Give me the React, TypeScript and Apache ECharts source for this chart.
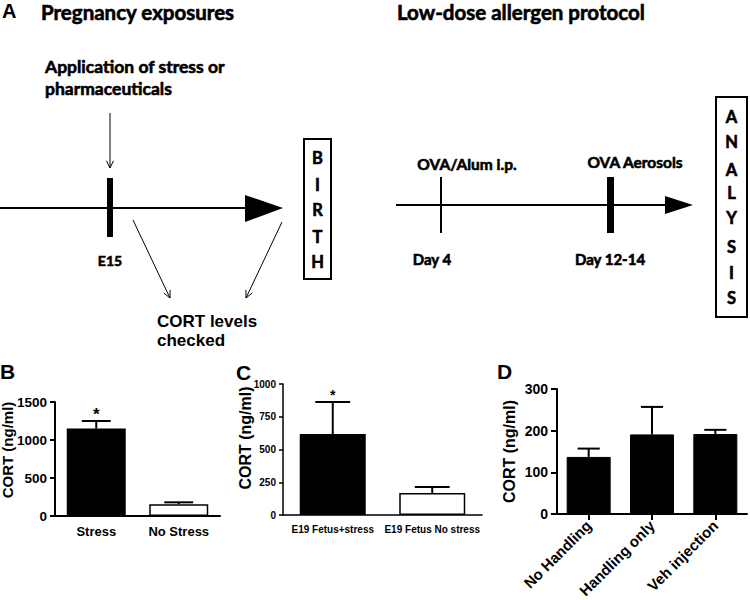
import React, { useEffect, useRef } from "react";
import * as echarts from "echarts";

// ---- Data ----
const bCategories = ["Stress", "No Stress"];
const bValues = [1150, 155];
const bErrTop = [1250, 180];
const bStars = [true, false];

const cCategories = ["E19 Fetus+stress", "E19 Fetus No stress"];
const cValues = [618, 168];
const cErrTop = [863, 214];
const cStars = [true, false];

const dCategories = ["No Handling", "Handling only", "Veh injection"];
const dValues = [137, 191, 192];
const dErrTop = [157, 257, 202];
const dStars = [false, false, false];

const yTitle = "CORT (ng/ml)";
const birthLetters = ["B", "I", "R", "T", "H"];
const analysisLetters = ["A", "N", "A", "L", "Y", "S", "I", "S"];

const ARIAL = "Liberation Sans";
const CAL = "Lato";

function txt(text: string, x: number, y: number, size: number, family: string, align = "left") {
  const heavy = family === CAL;
  return {
    type: "text",
    x,
    y,
    style: {
      text,
      fill: "#000",
      stroke: heavy ? "#000" : null,
      lineWidth: heavy ? 0.6 : 0,
      font: `bold ${size}px "${family}"`,
      textAlign: align,
      textVerticalAlign: "middle",
    },
  };
}

function line(x1: number, y1: number, x2: number, y2: number, w = 2) {
  return { type: "line", shape: { x1, y1, x2, y2 }, style: { stroke: "#000", lineWidth: w } };
}

function arrow(x1: number, y1: number, x2: number, y2: number) {
  const dx = x2 - x1;
  const dy = y2 - y1;
  const len = Math.sqrt(dx * dx + dy * dy);
  const ux = dx / len;
  const uy = dy / len;
  const L = 8;
  const a = Math.PI / 7;
  const p1 = [x2 - L * (ux * Math.cos(a) - uy * Math.sin(a)), y2 - L * (uy * Math.cos(a) + ux * Math.sin(a))];
  const p2 = [x2 - L * (ux * Math.cos(a) + uy * Math.sin(a)), y2 - L * (uy * Math.cos(a) - ux * Math.sin(a))];
  return [
    line(x1, y1, x2, y2, 1),
    { type: "polyline", shape: { points: [p1, [x2, y2], p2] }, style: { stroke: "#000", lineWidth: 1, fill: null } },
  ];
}

function buildGraphics() {
  const g: any[] = [];
  // Panel A left
  g.push(txt("A", 2, 11, 20, ARIAL));
  g.push(txt("Pregnancy exposures", 41, 12, 20.5, CAL));
  g.push(txt("Application of stress or", 45, 66, 17.5, CAL));
  g.push(txt("pharmaceuticals", 45, 88, 17.5, CAL));
  g.push(...arrow(110, 113, 110, 168));
  g.push({ type: "rect", shape: { x: 107, y: 178, width: 6, height: 59 }, style: { fill: "#000" } });
  g.push(line(0, 208, 250, 208, 2));
  g.push({ type: "polygon", shape: { points: [[245, 195], [283, 208], [245, 222]] }, style: { fill: "#000" } });
  g.push(txt("E15", 110, 260, 14, CAL, "center"));
  g.push(...arrow(133, 220, 170, 298));
  g.push(...arrow(282, 222, 246, 298));
  g.push(txt("CORT levels", 157, 321, 17, ARIAL));
  g.push(txt("checked", 157, 340, 17, ARIAL));
  g.push({ type: "rect", shape: { x: 304, y: 139, width: 27, height: 140 }, style: { fill: "#fff", stroke: "#000", lineWidth: 2 } });
  const birthY = [158, 185, 210, 237, 262];
  birthLetters.forEach((l, i) => g.push(txt(l, 317.5, birthY[i], 16.5, CAL, "center")));

  // Panel A right
  g.push(txt("Low-dose allergen protocol", 397, 12, 20.5, CAL));
  g.push(txt("OVA/Alum i.p.", 467, 164, 15.5, CAL, "center"));
  g.push(txt("OVA Aerosols", 635, 162, 15.5, CAL, "center"));
  g.push(line(441, 177, 441, 233, 2));
  g.push({ type: "rect", shape: { x: 607, y: 177, width: 7, height: 56 }, style: { fill: "#000" } });
  g.push(line(396, 205, 668, 205, 2));
  g.push({ type: "polygon", shape: { points: [[665, 196], [693, 205], [665, 214]] }, style: { fill: "#000" } });
  g.push(txt("Day 4", 432, 259, 15, CAL, "center"));
  g.push(txt("Day 12-14", 610, 259, 15, CAL, "center"));
  g.push({ type: "rect", shape: { x: 716, y: 97, width: 31, height: 220 }, style: { fill: "#fff", stroke: "#000", lineWidth: 2 } });
  const anaY = [117, 142, 170, 193, 218, 247, 273, 298];
  analysisLetters.forEach((l, i) => g.push(txt(l, 731.5, anaY[i], 16.5, CAL, "center")));

  // Panel letters
  g.push(txt("B", 0, 371, 21, ARIAL));
  g.push(txt("C", 236, 372, 21, ARIAL));
  g.push(txt("D", 497, 371, 21, ARIAL));
  return g;
}

function errorSeries(idx: number, values: number[], tops: number[], stars: boolean[], starSize: number, starGap: number) {
  return {
    type: "custom",
    xAxisIndex: idx,
    yAxisIndex: idx,
    z: 5,
    data: values.map((v, i) => [i, v, tops[i], stars[i] ? 1 : 0]),
    encode: { x: 0, y: [1, 2] },
    renderItem: (params: any, api: any) => {
      const i = api.value(0);
      const base = api.coord([i, api.value(1)]);
      const top = api.coord([i, api.value(2)]);
      const band = api.size([1, 0])[0];
      const half = band * 0.175;
      const children: any[] = [
        { type: "line", shape: { x1: base[0], y1: base[1], x2: top[0], y2: top[1] }, style: { stroke: "#000", lineWidth: 2 } },
        { type: "line", shape: { x1: top[0] - half, y1: top[1], x2: top[0] + half, y2: top[1] }, style: { stroke: "#000", lineWidth: 2 } },
      ];
      if (api.value(3)) {
        children.push({
          type: "text",
          x: top[0],
          y: top[1] - starGap,
          style: { text: "*", fill: "#000", font: `bold ${starSize}px "${ARIAL}"`, textAlign: "center", textVerticalAlign: "middle" },
        });
      }
      return { type: "group", children };
    },
  };
}

function yAxis(idx: number, max: number, interval: number, labelSize: number, lw: number, nameGap: number, tickLen: number, shift: number, nameSize: number) {
  return {
    type: "value",
    gridIndex: idx,
    min: 0,
    max,
    interval,
    splitLine: { show: false },
    axisLine: { show: true, lineStyle: { color: "#000", width: lw } },
    axisTick: { show: true, length: tickLen, lineStyle: { color: "#000", width: lw } },
    axisLabel: {
      color: "#000",
      fontWeight: "bold",
      fontSize: labelSize,
      fontFamily: ARIAL,
      margin: tickLen + 3,
      formatter: (v: number) => String(v),
    },
    name: yTitle,
    nameLocation: "middle",
    nameGap,
    nameMoveOverlap: false,
    nameTextStyle: { color: "#000", fontWeight: "bold", fontSize: nameSize, fontFamily: ARIAL, lineHeight: nameSize, padding: [0, 0, 0, shift] },
  };
}

function xAxis(idx: number, data: string[], labelSize: number, lw: number, extra: any = {}) {
  return {
    type: "category",
    gridIndex: idx,
    data,
    axisLine: { show: true, lineStyle: { color: "#000", width: lw } },
    axisTick: { show: false },
    axisLabel: { color: "#000", fontWeight: "bold", fontSize: labelSize, fontFamily: ARIAL, margin: 9, interval: 0 },
    ...extra,
  };
}

export default function App() {
  const ref = useRef<HTMLDivElement>(null);
  useEffect(() => {
    if (!ref.current) return;
    const chart = echarts.init(ref.current, null, { renderer: "svg" });
    const bFill = ["#000", "#fff"];
    chart.setOption({
      animation: false,
      backgroundColor: "#fff",
      grid: [
        { left: 55, top: 402, width: 165, height: 114, outerBoundsMode: "none" },
        { left: 283, top: 384, width: 199, height: 131, outerBoundsMode: "none" },
        { left: 557, top: 389, width: 190, height: 125, outerBoundsMode: "none" },
      ],
      xAxis: [
        xAxis(0, bCategories, 13, 2),
        xAxis(1, cCategories, 10, 1.5),
        xAxis(2, dCategories, 15, 2, {
          axisTick: { show: true, alignWithLabel: true, length: 6, lineStyle: { color: "#000", width: 2 } },
          axisLabel: { color: "#000", fontWeight: "bold", fontSize: 15, fontFamily: ARIAL, margin: 9, interval: 0, rotate: 45 },
        }),
      ],
      yAxis: [
        yAxis(0, 1500, 500, 13.5, 2, 40, 5, 18, 15),
        yAxis(1, 1000, 250, 10, 1.5, 30, 4, 23, 16),
        yAxis(2, 300, 100, 14, 2, 40, 6, 0, 16),
      ],
      series: [
        {
          type: "bar",
          xAxisIndex: 0,
          yAxisIndex: 0,
          barWidth: 59,
          data: bValues.map((v, i) => ({ value: v, itemStyle: { color: bFill[i], borderColor: "#000", borderWidth: 1.5 } })),
        },
        {
          type: "bar",
          xAxisIndex: 1,
          yAxisIndex: 1,
          barWidth: 66,
          data: cValues.map((v, i) => ({ value: v, itemStyle: { color: bFill[i], borderColor: "#000", borderWidth: 1.5 } })),
        },
        {
          type: "bar",
          xAxisIndex: 2,
          yAxisIndex: 2,
          barWidth: 44,
          data: dValues.map((v) => ({ value: v, itemStyle: { color: "#000", borderColor: "#000", borderWidth: 1 } })),
        },
        errorSeries(0, bValues, bErrTop, bStars, 17, 7),
        errorSeries(1, cValues, cErrTop, cStars, 14, 7),
        errorSeries(2, dValues, dErrTop, dStars, 14, 7),
      ],
      graphic: buildGraphics(),
    });
    return () => chart.dispose();
  }, []);
  return <div ref={ref} style={{ position: "absolute", left: 0, top: 0, width: 750, height: 600 }} />;
}
